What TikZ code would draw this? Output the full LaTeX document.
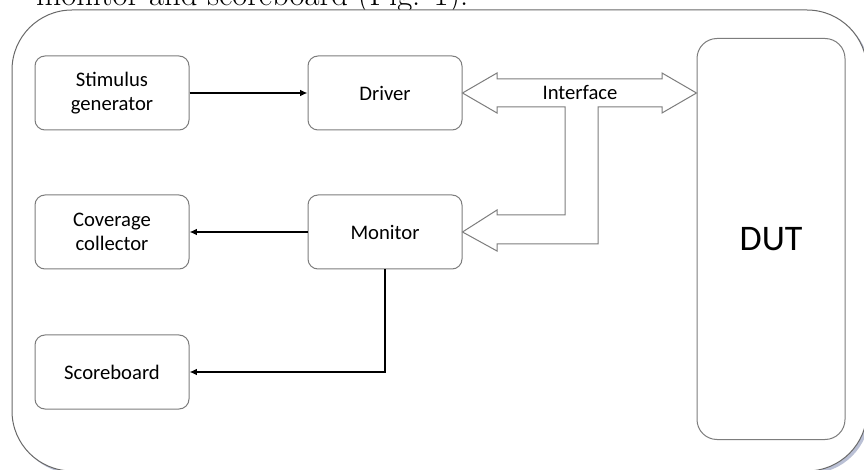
\documentclass[tikz,border=0pt]{standalone}
\usepackage{fontspec}
\newfontfamily\calibri{Carlito}
\usepackage{tikz}
\usetikzlibrary{arrows.meta}
\usetikzlibrary{positioning}
\usetikzlibrary{shadows}

\definecolor{boxgray}{RGB}{125,125,125}
\definecolor{framegray}{RGB}{105,105,105}
\definecolor{shadowblue}{RGB}{140,150,185}

\tikzset {
  % plain connector with a filled tip
  arr/.style = {
    draw = black,
    line width = 1.2pt,
    -{Latex[length=5.5pt,width=5pt]}
  },
  % hollow bus arrow between the blocks and the DUT
  bus/.style = {
    draw = boxgray,
    fill = white,
    line width = 0.75pt,
    line join = miter
  },
  % outer frame round everything
  frame/.style = {
    draw = framegray,
    fill = white,
    line width = 0.75pt,
    rounded corners = 45pt,
    drop shadow={shadow xshift=2pt,shadow yshift=-2pt,fill=shadowblue,opacity=0.6}
  }
}
\tikzset {
  block/.style = {
    draw = boxgray,
    line width = 0.75pt,
    rounded corners = 7.5pt,
    minimum width = 115.5pt,
    minimum height = 55.5pt,
    align = center,
    font = \calibri\fontsize{15.5}{18}\selectfont
  },
  % design under test
  dutbox/.style = {
    block,
    minimum width = 111pt,
    minimum height = 300.75pt,
    rounded corners = 15pt,
    font = \calibri\fontsize{27}{32}\selectfont
  },
  label/.style = {
    font = \calibri\fontsize{15.5}{18}\selectfont
  }
}

\begin{document}
\begin{tikzpicture}[x=0.75pt, y=-0.75pt]
    \useasboundingbox (0,0) rectangle (864,470);
    \clip (0,0) rectangle (864,470);

    \node[anchor=base east, font=\fontsize{24.5}{29}\selectfont] (caption) at (473,6) {monitor and scoreboard (Fig. 1).};
    \draw[frame] (12,10) rectangle (867,471);

    \node[block] (stim) at (112,93) {Stimulus\\generator};
    \node[block] (driver) [right=88.5pt of stim] {Driver};
    \node[block] (coverage) [below=48pt of stim] {Coverage\\collector};
    \node[block] (monitor) [right=88.5pt of coverage] {Monitor};
    \node[block] (score) [below=48.75pt of coverage] {Scoreboard};
    \node[dutbox] (dut) at (771,239) {DUT};

    \draw[bus] (driver.east)
    -- (497,73) -- (497,79) -- (662,79) -- (662,73)
    -- (dut.west |- driver.east)
    -- (662,113) -- (662,107) -- (598,107) -- (598,244)
    -- (497,244) -- (497,251)
    -- (monitor.east)
    -- (497,210) -- (497,215) -- (565,215) -- (565,107)
    -- (497,107) -- (497,113) -- cycle;
    \node[label] (iface) at (580,92) {Interface};

    \draw[arr] (stim) -- (driver);
    \draw[arr] (monitor) -- (coverage);
    \draw[arr] (monitor.south) |- (score.east);
  \end{tikzpicture}
\end{document}
